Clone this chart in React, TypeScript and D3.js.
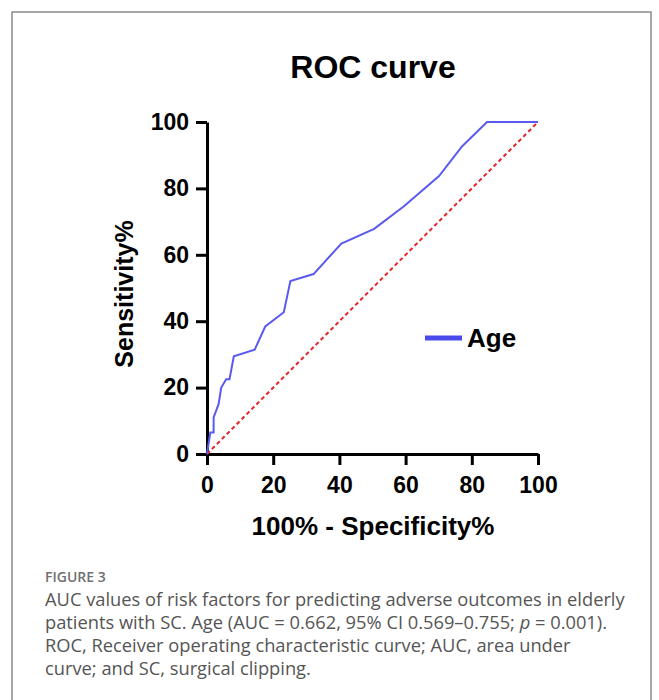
import React, { useEffect, useRef } from 'react';
import * as d3 from 'd3';

// ROC points for Age (100% - specificity, sensitivity)
const fpr = [0, 1, 2, 2, 3.5, 4.3, 5.8, 6.8, 8.1, 14.4, 17.6, 23.2, 25.2, 32.2, 40.6, 50.5, 59.5, 70.1, 77.1, 84.6, 100];
const tpr = [0, 6.5, 6.5, 11, 15, 20, 22.5, 22.5, 29.4, 31.4, 38.4, 42.7, 52.1, 54.2, 63.4, 67.8, 74.6, 83.7, 92.7, 100, 100];
const refLine = [0, 100];
const ticks = [0, 20, 40, 60, 80, 100];
const seriesName = 'Age';
const captionHead = 'FIGURE 3';
// each line is a list of [text, italic]
const captionLines: [string, boolean][][] = [
  [['AUC values of risk factors for predicting adverse outcomes in elderly', false]],
  [['patients with SC. Age (AUC = 0.662, 95% CI 0.569\u20130.755; ', false], ['p', true], [' = 0.001).', false]],
  [['ROC, Receiver operating characteristic curve; AUC, area under', false]],
  [['curve; and SC, surgical clipping.', false]]
];

const W = 659;
const H = 700;
const chartFont = '"Liberation Sans", Arial, sans-serif';
const capFont = '"Open Sans", sans-serif';

const App = () => {
  const svgRef = useRef<SVGSVGElement>(null);

  useEffect(() => {
    const svg = d3.select(svgRef.current);
    svg.selectAll('*').remove();

    // frame around the figure (open at the bottom)
    svg.append('path')
      .attr('d', `M12,${H} L12,12 L651,12 L651,${H}`)
      .attr('fill', 'none').attr('stroke', '#8a8a8a').attr('stroke-width', 1.5);

    const x = d3.scaleLinear().domain([0, 100]).range([207, 538]);
    const y = d3.scaleLinear().domain([0, 100]).range([454, 122]);

    svg.append('text')
      .attr('x', 373).attr('y', 78).attr('text-anchor', 'middle')
      .attr('font-family', chartFont).attr('font-weight', 'bold').attr('font-size', 32)
      .text('ROC curve');

    const styleAxis = (g) => {
      g.select('.domain').attr('stroke', '#000').attr('stroke-width', 3);
      g.selectAll('.tick line').attr('stroke', '#000').attr('stroke-width', 3);
      g.selectAll('.tick text')
        .attr('font-family', chartFont).attr('font-weight', 'bold').attr('font-size', 23).attr('fill', '#000');
    };

    svg.append('g').attr('transform', `translate(0,${y(0)})`)
      .call(d3.axisBottom(x).tickValues(ticks).tickSize(11).tickSizeOuter(0).tickPadding(12))
      .call(styleAxis);
    svg.append('g').attr('transform', `translate(${x(0)},0)`)
      .call(d3.axisLeft(y).tickValues(ticks).tickSize(11).tickSizeOuter(0).tickPadding(7))
      .call(styleAxis);

    // reference diagonal
    svg.append('line')
      .attr('x1', x(refLine[0])).attr('y1', y(refLine[0]))
      .attr('x2', x(refLine[1])).attr('y2', y(refLine[1]))
      .attr('stroke', '#e5242b').attr('stroke-width', 2).attr('stroke-dasharray', '4,3');

    const pts = fpr.map((f, i) => [f, tpr[i]] as [number, number]);
    const line = d3.line<[number, number]>().x(d => x(d[0])).y(d => y(d[1]));
    svg.append('path').datum(pts)
      .attr('fill', 'none').attr('stroke', '#5a5af0').attr('stroke-width', 2).attr('d', line);

    // legend
    svg.append('line').attr('x1', 425).attr('x2', 462).attr('y1', 338).attr('y2', 338)
      .attr('stroke', '#4a4aea').attr('stroke-width', 5);
    svg.append('text').attr('x', 467).attr('y', 347)
      .attr('font-family', chartFont).attr('font-weight', 'bold').attr('font-size', 26)
      .text(seriesName);

    svg.append('text')
      .attr('transform', `translate(133,294) rotate(-90)`).attr('text-anchor', 'middle')
      .attr('font-family', chartFont).attr('font-weight', 'bold').attr('font-size', 25)
      .text('Sensitivity%');
    svg.append('text')
      .attr('x', 373).attr('y', 535).attr('text-anchor', 'middle')
      .attr('font-family', chartFont).attr('font-weight', 'bold').attr('font-size', 26)
      .text('100% - Specificity%');

    // caption
    svg.append('text').attr('x', 45).attr('y', 582)
      .attr('font-family', capFont).attr('font-weight', 600).attr('font-size', 14).attr('fill', '#707070')
      .text(captionHead);
    captionLines.forEach((segs, i) => {
      const t = svg.append('text').attr('x', 45).attr('y', 606 + i * 23)
        .attr('font-family', capFont).attr('font-size', 18.3).attr('fill', '#555');
      segs.forEach(([s, it]) => {
        t.append('tspan').attr('font-style', it ? 'italic' : 'normal').text(s);
      });
    });
  }, []);

  return (
    <div style={{ position: 'absolute', left: 0, top: 0 }}>
      <svg ref={svgRef} width={W} height={H} style={{ display: 'block', background: '#fff' }} />
    </div>
  );
};

export default App;
